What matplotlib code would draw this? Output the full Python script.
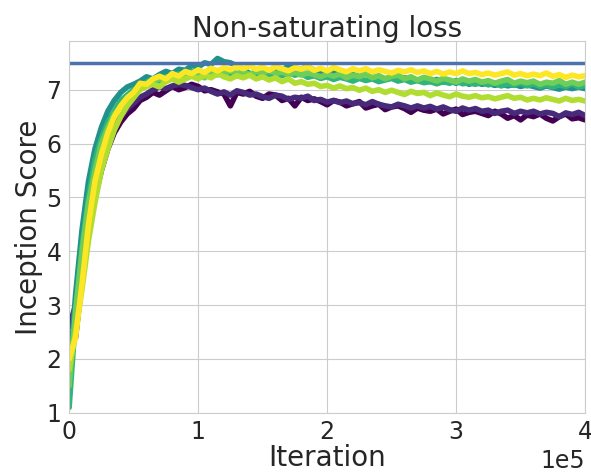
import numpy as np
import matplotlib
matplotlib.use("Agg")
import matplotlib.pyplot as plt
import seaborn as sns

sns.set_style("whitegrid")

# iteration grid, one sample every 5000 steps
iterations = np.arange(0, 400001, 5000)

# inception score per run (81 points each)
run_purple = [
    2.3, 2.4, 3.5, 4.4, 5.0, 5.5, 5.9, 6.2, 6.4,
    6.55, 6.65, 6.8, 6.86, 6.95, 6.9, 6.98, 7.06, 7.0,
    7.04, 7.1, 7.06, 6.98, 7.0, 6.96, 6.92, 6.7, 6.95,
    6.92, 6.97, 6.88, 6.84, 6.92, 6.9, 6.8, 6.84, 6.7,
    6.86, 6.8, 6.83, 6.78, 6.72, 6.8, 6.77, 6.7, 6.74,
    6.78, 6.66, 6.7, 6.73, 6.63, 6.68, 6.7, 6.65, 6.58,
    6.66, 6.62, 6.6, 6.64, 6.55, 6.6, 6.64, 6.54, 6.58,
    6.6, 6.56, 6.52, 6.6, 6.55, 6.47, 6.52, 6.44, 6.53,
    6.5, 6.55, 6.47, 6.42, 6.5, 6.55, 6.46, 6.48, 6.44,
]
run_indigo = [
    2.6, 3.0, 3.8, 4.6, 5.2, 5.7, 6.0, 6.3, 6.5,
    6.65, 6.75, 6.86, 6.92, 7.0, 7.05, 7.02, 7.07, 7.1,
    7.08, 7.04, 7.0, 7.03, 6.97, 6.92, 6.96, 6.9, 6.98,
    6.95, 6.9, 6.92, 6.87, 6.84, 6.9, 6.88, 6.82, 6.86,
    6.84, 6.88, 6.8, 6.82, 6.77, 6.8, 6.76, 6.79, 6.74,
    6.76, 6.72, 6.78, 6.73, 6.7, 6.68, 6.73, 6.7, 6.66,
    6.7, 6.66, 6.69, 6.64, 6.68, 6.63, 6.6, 6.66, 6.62,
    6.65, 6.6, 6.62, 6.56, 6.6, 6.62, 6.56, 6.6, 6.57,
    6.6, 6.55, 6.58, 6.56, 6.5, 6.57, 6.54, 6.58, 6.52,
]
run_teal = [
    1.6, 3.2, 4.4, 5.3, 5.9, 6.3, 6.6, 6.8, 6.95,
    7.05, 7.1, 7.16, 7.24, 7.2, 7.28, 7.34, 7.3, 7.38,
    7.36, 7.45, 7.42, 7.5, 7.47, 7.58, 7.52, 7.5, 7.44,
    7.38, 7.3, 7.22, 7.3, 7.35, 7.4, 7.36, 7.44, 7.4,
    7.38, 7.43, 7.36, 7.3, 7.34, 7.32, 7.24, 7.3, 7.28,
    7.25, 7.3, 7.22, 7.25, 7.2, 7.24, 7.18, 7.22, 7.2,
    7.17, 7.2, 7.15, 7.19, 7.14, 7.16, 7.12, 7.16, 7.1,
    7.14, 7.1, 7.12, 7.08, 7.11, 7.07, 7.1, 7.06, 7.09,
    7.06, 7.03, 7.07, 7.04, 7.01, 7.05, 7.02, 7.05, 7.02,
]
run_green = [
    1.1, 2.8, 4.1, 5.0, 5.7, 6.1, 6.4, 6.6, 6.8,
    6.9, 7.0, 7.06, 7.14, 7.2, 7.16, 7.24, 7.2, 7.3,
    7.26, 7.34, 7.3, 7.24, 7.3, 7.28, 7.35, 7.3, 7.26,
    7.3, 7.27, 7.33, 7.28, 7.23, 7.28, 7.26, 7.32, 7.27,
    7.3, 7.23, 7.26, 7.21, 7.24, 7.19, 7.23, 7.2, 7.16,
    7.21, 7.17, 7.2, 7.15, 7.18, 7.21, 7.16, 7.19, 7.14,
    7.17, 7.13, 7.15, 7.11, 7.15, 7.12, 7.17, 7.11, 7.13,
    7.1, 7.14, 7.09, 7.12, 7.07, 7.11, 7.08, 7.13, 7.07,
    7.11, 7.06, 7.09, 7.05, 7.09, 7.06, 7.11, 7.05, 7.08,
]
run_lightgreen = [
    1.5, 2.9, 4.0, 4.9, 5.5, 6.0, 6.3, 6.55, 6.7,
    6.85, 6.95, 7.08, 7.06, 7.15, 7.2, 7.16, 7.24, 7.2,
    7.28, 7.25, 7.3, 7.22, 7.33, 7.28, 7.3, 7.35, 7.3,
    7.33, 7.28, 7.34, 7.3, 7.37, 7.3, 7.33, 7.28, 7.32,
    7.27, 7.31, 7.28, 7.24, 7.29, 7.25, 7.29, 7.22, 7.27,
    7.24, 7.29, 7.22, 7.26, 7.2, 7.25, 7.27, 7.2, 7.24,
    7.18, 7.23, 7.2, 7.16, 7.21, 7.18, 7.14, 7.2, 7.16,
    7.19, 7.14, 7.17, 7.12, 7.16, 7.19, 7.12, 7.16, 7.13,
    7.16, 7.1, 7.14, 7.12, 7.17, 7.1, 7.14, 7.1, 7.14,
]
run_lime = [
    1.8, 2.5, 3.3, 4.2, 4.9, 5.5, 5.9, 6.25, 6.5,
    6.7, 6.85, 7.0, 7.06, 7.1, 7.05, 7.15, 7.2, 7.14,
    7.2, 7.25, 7.2, 7.27, 7.22, 7.3, 7.24, 7.2, 7.26,
    7.22, 7.27, 7.2, 7.24, 7.18, 7.22, 7.15, 7.2, 7.12,
    7.15, 7.1, 7.12, 7.06, 7.08, 7.03, 7.07, 7.02, 7.04,
    6.99, 7.03, 6.97, 7.0, 6.95, 6.99, 6.95, 6.91, 6.97,
    6.93, 6.95, 6.89, 6.94, 6.9, 6.87, 6.92, 6.88, 6.86,
    6.89, 6.85, 6.87, 6.83, 6.86, 6.89, 6.84, 6.86, 6.81,
    6.84, 6.81, 6.85, 6.82, 6.79, 6.84, 6.8, 6.82, 6.79,
]
run_yellow = [
    2.0, 2.4, 3.4, 4.5, 5.3, 5.8, 6.2, 6.5, 6.7,
    6.85, 6.95, 7.12, 7.1, 7.2, 7.25, 7.2, 7.3, 7.25,
    7.34, 7.3, 7.37, 7.32, 7.4, 7.35, 7.41, 7.37, 7.43,
    7.39, 7.44, 7.38, 7.42, 7.36, 7.43, 7.39, 7.35, 7.41,
    7.38, 7.43, 7.36, 7.4, 7.35, 7.41, 7.37, 7.33, 7.39,
    7.35, 7.39, 7.33, 7.37, 7.34, 7.31, 7.36, 7.33, 7.37,
    7.32, 7.35, 7.3, 7.34, 7.29, 7.33, 7.3, 7.35, 7.3,
    7.32, 7.28, 7.31, 7.27, 7.3, 7.33, 7.27, 7.3, 7.26,
    7.29, 7.26, 7.31, 7.25, 7.28, 7.23, 7.27, 7.24, 7.26,
]
runs = [run_purple, run_indigo, run_teal, run_green, run_lightgreen, run_lime, run_yellow]
run_shades = [0.0, 0.12, 0.5, 0.65, 0.78, 0.88, 1.0]

real_data_score = 7.5

fig = plt.figure(figsize=(5.91, 4.74), dpi=100)
ax = fig.add_axes([0.117, 0.129, 0.873, 0.784])

cmap = plt.get_cmap("viridis")
for run, shade in zip(runs, run_shades):
    ax.plot(iterations, run, color=cmap(shade), lw=4)

ax.axhline(real_data_score, color="#4c72b0", lw=2.5)

ax.set_xlim(0, 400000)
ax.set_ylim(1, 7.9)
ax.set_xticks([0, 100000, 200000, 300000, 400000])
ax.set_yticks([1, 2, 3, 4, 5, 6, 7])
ax.ticklabel_format(axis="x", style="sci", scilimits=(0, 0))
ax.tick_params(labelsize=17, pad=2)
ax.xaxis.get_offset_text().set_fontsize(17)
ax.set_title("Non-saturating loss", fontsize=20, pad=3)
ax.set_xlabel("Iteration", fontsize=20, labelpad=0)
ax.set_ylabel("Inception Score", fontsize=20, labelpad=2)

fig.savefig("out.png", dpi=100)
